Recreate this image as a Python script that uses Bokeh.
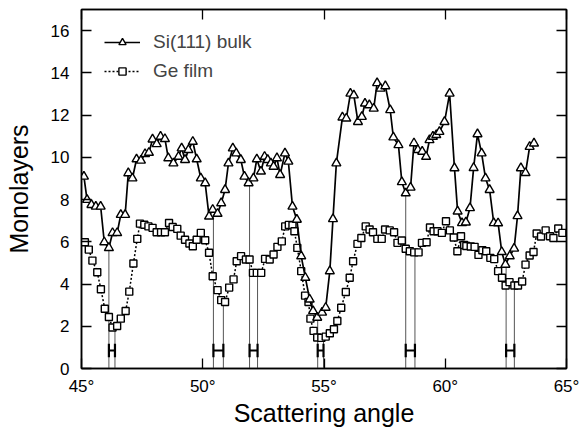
from bokeh.plotting import figure
from bokeh.models import (LinearAxis, FixedTicker, Legend, LegendItem,
                          CustomJSTickFormatter, Range1d, ColumnDataSource)
from bokeh.embed import file_html
from bokeh.resources import INLINE

# ---------------- data ----------------
si_angle = [45.10, 45.23, 45.41, 45.59, 45.79, 45.94, 46.13, 46.28, 46.47, 46.62,
            46.80, 46.93, 47.10, 47.27, 47.45, 47.62, 47.78, 47.93, 48.10, 48.26,
            48.44, 48.58, 48.79, 49.00, 49.13, 49.27, 49.41, 49.59, 49.75, 49.92,
            50.10, 50.26, 50.41, 50.61, 50.76, 50.92, 51.06, 51.24, 51.38, 51.57,
            51.72, 51.89, 52.09, 52.23, 52.40, 52.55, 52.68, 52.81, 52.92, 53.06,
            53.19, 53.39, 53.53, 53.70, 53.88, 54.06, 54.23, 54.41, 54.55, 54.72,
            54.92, 55.07, 55.24, 55.37, 55.51, 55.76, 55.92, 56.09, 56.23, 56.40,
            56.56, 56.69, 56.87, 57.05, 57.19, 57.33, 57.53, 57.73, 57.86, 58.07,
            58.21, 58.37, 58.57, 58.71, 58.87, 59.05, 59.21, 59.35, 59.49, 59.63,
            59.76, 59.97, 60.18, 60.38, 60.51, 60.69, 60.85, 61.02, 61.17, 61.33,
            61.50, 61.66, 61.83, 62.00, 62.18, 62.33, 62.48, 62.66, 62.84, 62.98,
            63.12, 63.31, 63.48, 63.66]
si_ml = [9.09, 7.99, 7.75, 7.67, 7.67, 5.98, 5.71, 6.42, 6.42, 7.28,
         7.28, 9.25, 9.01, 9.91, 9.85, 10.16, 10.22, 10.85, 10.63, 10.98,
         10.87, 9.96, 9.72, 10.03, 10.43, 9.88, 10.35, 10.74, 9.91, 9.01,
         8.78, 7.20, 7.52, 7.33, 7.83, 8.46, 9.72, 10.43, 10.19, 9.88,
         9.09, 8.78, 9.01, 9.91, 9.33, 10.03, 9.88, 9.72, 9.56, 9.96,
         9.17, 10.19, 9.80, 7.67, 7.05, 5.32, 4.30, 3.27, 2.72, 2.41,
         2.65, 2.88, 4.61, 7.08, 9.72, 11.89, 11.84, 13.02, 12.94, 11.68,
         11.92, 12.55, 12.47, 12.31, 13.52, 13.26, 13.37, 12.24, 10.95, 10.58,
         8.83, 8.30, 8.57, 10.67, 10.35, 10.27, 10.03, 10.82, 10.98, 11.06,
         11.21, 11.68, 13.02, 9.49, 7.44, 6.89, 6.92, 7.60, 9.50, 11.10,
         10.19, 9.01, 8.46, 6.89, 6.88, 5.52, 4.92, 5.32, 5.68, 7.22,
         9.49, 9.26, 10.50, 10.66]

ge_angle = [45.14, 45.30, 45.45, 45.65, 45.80, 45.96, 46.13, 46.28, 46.47, 46.62,
            46.82, 46.97, 47.14, 47.30, 47.41, 47.59, 47.76, 47.93, 48.10, 48.28,
            48.44, 48.61, 48.76, 48.95, 49.09, 49.27, 49.45, 49.59, 49.75, 49.92,
            50.10, 50.26, 50.41, 50.61, 50.76, 50.92, 51.09, 51.27, 51.40, 51.58,
            51.78, 51.93, 52.07, 52.23, 52.41, 52.57, 52.76, 52.92, 53.08, 53.26,
            53.40, 53.55, 53.70, 53.78, 53.90, 54.06, 54.22, 54.36, 54.44, 54.57,
            54.72, 54.89, 55.07, 55.24, 55.41, 55.55, 55.71, 55.90, 56.06, 56.20,
            56.38, 56.54, 56.72, 56.88, 57.02, 57.20, 57.38, 57.52, 57.71, 57.89,
            58.03, 58.21, 58.37, 58.54, 58.72, 58.90, 59.04, 59.23, 59.37, 59.52,
            59.68, 59.86, 60.03, 60.19, 60.35, 60.50, 60.65, 60.78, 60.87, 61.05,
            61.21, 61.37, 61.53, 61.69, 61.86, 62.02, 62.18, 62.34, 62.49, 62.65,
            62.85, 63.00, 63.17, 63.31, 63.48, 63.64, 63.77, 63.95, 64.14, 64.32,
            64.46, 64.66, 64.83]
ge_ml = [5.98, 5.63, 5.11, 4.56, 3.75, 2.83, 2.44, 1.94, 2.01, 2.36,
         2.72, 3.64, 4.97, 6.14, 6.86, 6.81, 6.73, 6.66, 6.45, 6.45,
         6.45, 6.89, 6.70, 6.61, 6.29, 6.10, 5.92, 5.79, 6.10, 6.42,
         6.07, 5.48, 4.37, 3.71, 3.24, 3.15, 3.83, 4.22, 5.08, 5.32,
         5.16, 5.16, 4.53, 4.53, 4.53, 5.19, 5.16, 5.40, 5.76, 6.02,
         6.73, 6.80, 6.78, 6.50, 5.71, 4.61, 3.45, 3.15, 2.36, 1.78,
         1.47, 1.45, 1.51, 1.67, 1.86, 2.25, 2.88, 3.62, 4.30, 5.08,
         5.90, 6.18, 6.73, 6.58, 6.45, 6.14, 6.14, 6.58, 6.54, 6.45,
         5.95, 6.06, 5.67, 5.55, 5.50, 5.50, 5.95, 5.98, 6.68, 6.50,
         6.50, 6.42, 6.97, 6.54, 6.20, 5.55, 6.26, 5.85, 5.80, 5.78,
         5.76, 5.38, 5.60, 5.55, 5.24, 5.18, 4.61, 4.30, 3.93, 4.09,
         3.93, 3.93, 4.12, 4.92, 5.35, 5.52, 6.39, 6.25, 6.54, 6.26,
         6.18, 6.63, 6.42]

# minima positions (Si bulk and Ge film) marked by drop lines
si_min_angle = [46.13, 50.44, 51.93, 54.74, 58.37, 62.51]
si_min_ml = [5.71, 7.30, 8.78, 2.41, 8.30, 4.92]
ge_min_angle = [46.38, 50.85, 52.26, 54.98, 58.75, 62.85]
ge_min_ml = [1.94, 3.15, 4.53, 1.45, 5.50, 3.93]

x_ticks = [45, 50, 55, 60, 65]
x_tick_labels = ["45°", "50°", "55°", "60°", "65°"]
y_ticks = [0, 2, 4, 6, 8, 10, 12, 14, 16]

# ---------------- figure ----------------
FONT = "Liberation Sans"
H_LEVEL = 0.85
H_CAP = 0.32

p = figure(width=585, height=429, x_range=Range1d(45, 65), y_range=Range1d(0, 17),
           output_backend="svg", toolbar_location=None,
           min_border_left=81, min_border_right=19, min_border_top=9,
           min_border_bottom=60)
p.background_fill_color = "white"
p.border_fill_color = "white"
p.outline_line_color = "black"
p.outline_line_width = 1.5
p.xgrid.visible = False
p.ygrid.visible = False

def style_axis(ax):
    ax.axis_line_color = "black"
    ax.axis_line_width = 1.5
    ax.major_tick_in = 10
    ax.major_tick_out = 0
    ax.major_tick_line_width = 1.3
    ax.major_tick_line_color = "black"
    ax.minor_tick_line_color = None
    ax.major_label_text_font = FONT
    ax.major_label_text_font_size = "17px"
    ax.major_label_text_color = "black"
    ax.axis_label_text_font = FONT
    ax.axis_label_text_font_size = "25px"
    ax.axis_label_text_font_style = "normal"
    ax.axis_label_text_color = "black"

xa = p.xaxis[0]
xa.ticker = FixedTicker(ticks=x_ticks)
xa.major_label_overrides = {t: lab for t, lab in zip(x_ticks, x_tick_labels)}
xa.axis_label = "Scattering angle"
xa.major_label_standoff = 8
xa.axis_label_standoff = 0
style_axis(xa)

ya = p.yaxis[0]
ya.ticker = FixedTicker(ticks=y_ticks)
ya.axis_label = "Monolayers"
ya.major_label_standoff = 12
ya.axis_label_standoff = 15
style_axis(ya)

blank = CustomJSTickFormatter(code="return ''")
top = LinearAxis(ticker=FixedTicker(ticks=x_ticks), formatter=blank)
style_axis(top)
top.major_label_standoff = 0
p.add_layout(top, "above")
right = LinearAxis(ticker=FixedTicker(ticks=y_ticks), formatter=blank)
style_axis(right)
right.major_label_standoff = 0
p.add_layout(right, "right")

# drop lines from minima to the baseline
zeros = [0] * len(si_min_angle)
p.segment(x0=si_min_angle, y0=zeros, x1=si_min_angle, y1=si_min_ml,
          line_color="#555555", line_width=1)
p.segment(x0=ge_min_angle, y0=zeros, x1=ge_min_angle, y1=ge_min_ml,
          line_color="#555555", line_width=1)
# "H" markers showing the shift between minima
hy = [H_LEVEL] * len(si_min_angle)
p.segment(x0=si_min_angle, y0=hy, x1=ge_min_angle, y1=hy,
          line_color="black", line_width=2)
lo = [H_LEVEL - H_CAP] * len(si_min_angle)
hi = [H_LEVEL + H_CAP] * len(si_min_angle)
p.segment(x0=si_min_angle, y0=lo, x1=si_min_angle, y1=hi, line_color="black", line_width=2.2)
p.segment(x0=ge_min_angle, y0=lo, x1=ge_min_angle, y1=hi, line_color="black", line_width=2.2)

si_src = ColumnDataSource(dict(x=si_angle, y=si_ml))
ge_src = ColumnDataSource(dict(x=ge_angle, y=ge_ml))

ge_line = p.line("x", "y", source=ge_src, line_color="black", line_width=1.5,
                 line_dash="2 2")
ge_pts = p.scatter("x", "y", source=ge_src, marker="square", size=7,
                   fill_color="white", line_color="black", line_width=1.4)
si_line = p.line("x", "y", source=si_src, line_color="black", line_width=1.7)
si_pts = p.scatter("x", "y", source=si_src, marker="triangle", size=9,
                   fill_color="white", line_color="black", line_width=1.4)

legend = Legend(items=[LegendItem(label="Si(111) bulk", renderers=[si_line, si_pts]),
                       LegendItem(label="Ge film", renderers=[ge_line, ge_pts])],
                location=(23, 286))
legend.border_line_color = None
legend.background_fill_alpha = 0
legend.label_text_font = FONT
legend.label_text_font_size = "19px"
legend.glyph_width = 36
legend.glyph_height = 18
legend.label_height = 18
legend.spacing = 7
legend.padding = 4
legend.label_standoff = 13
legend.margin = 0
p.add_layout(legend)

open("out.html", "w").write(file_html(p, INLINE))
